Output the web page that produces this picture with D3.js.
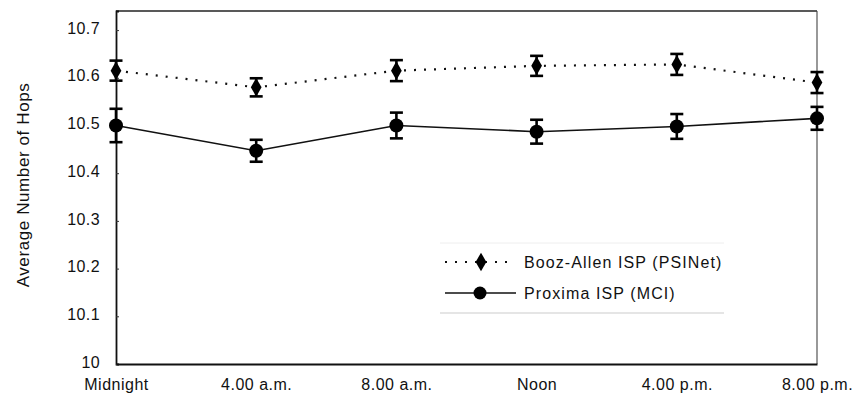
<!DOCTYPE html>
<html>
<head>
<meta charset="utf-8">
<script src="https://cdn.jsdelivr.net/npm/d3@7"></script>
<style>
  body { margin: 0; background: #fff; }
  text { font-family: "Liberation Sans", Arial, sans-serif; fill: #111; }
</style>
</head>
<body>
<div id="chart"></div>
<script>
// data
const categories = ['Midnight', '4.00 a.m.', '8.00 a.m.', 'Noon', '4.00 p.m.', '8.00 p.m.'];
const boozValues = [10.615, 10.58, 10.615, 10.625, 10.628, 10.59];
const boozErrors = [0.021, 0.019, 0.022, 0.021, 0.022, 0.022];
const proximaValues = [10.50, 10.447, 10.50, 10.487, 10.498, 10.515];
const proximaErrors = [0.035, 0.023, 0.027, 0.025, 0.026, 0.024];
const yTicks = [10, 10.1, 10.2, 10.3, 10.4, 10.5, 10.6, 10.7];
const seriesNames = ['Booz-Allen ISP (PSINet)', 'Proxima ISP (MCI)'];

const width = 855, height = 400;
const margin = { top: 11, right: 38, bottom: 36, left: 116 };
const fontSize = 16;

const svg = d3.select('#chart').append('svg')
  .attr('width', width)
  .attr('height', height);

const x = d3.scalePoint()
  .domain(categories)
  .range([margin.left, width - margin.right])
  .padding(0);

const y = d3.scaleLinear()
  .domain([10, 10.74])
  .range([height - margin.bottom, margin.top]);

// frame: top and right lighter
svg.append('line')
  .attr('x1', margin.left).attr('x2', width - margin.right)
  .attr('y1', margin.top).attr('y2', margin.top)
  .attr('stroke', '#222').attr('stroke-width', 1.5);
svg.append('line')
  .attr('x1', width - margin.right).attr('x2', width - margin.right)
  .attr('y1', margin.top).attr('y2', height - margin.bottom)
  .attr('stroke', '#444').attr('stroke-width', 1.1);

// y axis
const yAxis = d3.axisLeft(y)
  .tickValues(yTicks)
  .tickSize(-3)
  .tickPadding(16)
  .tickFormat(d => d === 10 ? '10' : d3.format('.1f')(d));

const gy = svg.append('g')
  .attr('transform', 'translate(' + margin.left + ',0)')
  .call(yAxis);
gy.select('.domain').attr('stroke', '#111').attr('stroke-width', 1.8);
gy.selectAll('.tick line').attr('stroke', '#333');
gy.selectAll('.tick text')
  .attr('font-size', fontSize)
  .attr('dy', '0.2em')
  .attr('letter-spacing', 0.4)
  .style('font-family', '"Liberation Sans", Arial, sans-serif');

// x axis
const xAxis = d3.axisBottom(x).tickSize(0).tickPadding(15);
const gx = svg.append('g')
  .attr('transform', 'translate(0,' + (height - margin.bottom) + ')')
  .call(xAxis);
gx.select('.domain').attr('stroke', '#111').attr('stroke-width', 1.8);
gx.selectAll('.tick text')
  .attr('font-size', fontSize)
  .attr('letter-spacing', 0.5)
  .style('font-family', '"Liberation Sans", Arial, sans-serif');

// y label
svg.append('text')
  .attr('transform', 'translate(29,' + 185 + ') rotate(-90)')
  .attr('text-anchor', 'middle')
  .attr('font-size', 17)
  .attr('letter-spacing', 0.6)
  .text('Average Number of Hops');

const line = d3.line()
  .x((d, i) => x(categories[i]))
  .y(d => y(d));

// lines
svg.append('path')
  .datum(boozValues)
  .attr('d', line)
  .attr('fill', 'none')
  .attr('stroke', '#111')
  .attr('stroke-width', 2.2)
  .attr('stroke-dasharray', '2,8');

svg.append('path')
  .datum(proximaValues)
  .attr('d', line)
  .attr('fill', 'none')
  .attr('stroke', '#111')
  .attr('stroke-width', 1.6);

// error bars
function errorBars(values, errors) {
  const g = svg.append('g').attr('stroke', '#000').attr('stroke-width', 2.6);
  values.forEach((v, i) => {
    const cx = x(categories[i]);
    const y0 = y(v - errors[i]), y1 = y(v + errors[i]);
    g.append('line').attr('x1', cx).attr('x2', cx).attr('y1', y0).attr('y2', y1);
    g.append('line').attr('x1', cx - 6.5).attr('x2', cx + 6.5).attr('y1', y0).attr('y2', y0);
    g.append('line').attr('x1', cx - 6.5).attr('x2', cx + 6.5).attr('y1', y1).attr('y2', y1);
  });
}
errorBars(boozValues, boozErrors);
errorBars(proximaValues, proximaErrors);

const diamond = d3.symbol().type(d3.symbolDiamond).size(100);

// markers
svg.append('g').selectAll('path')
  .data(boozValues)
  .join('path')
  .attr('d', diamond)
  .attr('transform', (d, i) => 'translate(' + x(categories[i]) + ',' + y(d) + ')')
  .attr('fill', '#000');

svg.append('g').selectAll('circle')
  .data(proximaValues)
  .join('circle')
  .attr('cx', (d, i) => x(categories[i]))
  .attr('cy', d => y(d))
  .attr('r', 7)
  .attr('fill', '#000');

// legend
const lg = svg.append('g');
lg.append('line').attr('x1', 440).attr('x2', 724).attr('y1', 243).attr('y2', 243)
  .attr('stroke', '#eee').attr('stroke-width', 1);
lg.append('line').attr('x1', 440).attr('x2', 724).attr('y1', 313).attr('y2', 313)
  .attr('stroke', '#ccc').attr('stroke-width', 1.2);

lg.append('line').attr('x1', 445).attr('x2', 514).attr('y1', 262).attr('y2', 262)
  .attr('stroke', '#111').attr('stroke-width', 2.2).attr('stroke-dasharray', '2,8');
lg.append('path').attr('d', diamond).attr('transform', 'translate(481,262)').attr('fill', '#000');
lg.append('text').attr('x', 524).attr('y', 262).attr('dy', '0.35em')
  .attr('font-size', fontSize).attr('letter-spacing', 1.1).text(seriesNames[0]);

lg.append('line').attr('x1', 445).attr('x2', 516).attr('y1', 293).attr('y2', 293)
  .attr('stroke', '#111').attr('stroke-width', 1.4);
lg.append('circle').attr('cx', 480).attr('cy', 293).attr('r', 6.5).attr('fill', '#000');
lg.append('text').attr('x', 524).attr('y', 293).attr('dy', '0.35em')
  .attr('font-size', fontSize).attr('letter-spacing', 1.1).text(seriesNames[1]);
</script>
</body>
</html>
